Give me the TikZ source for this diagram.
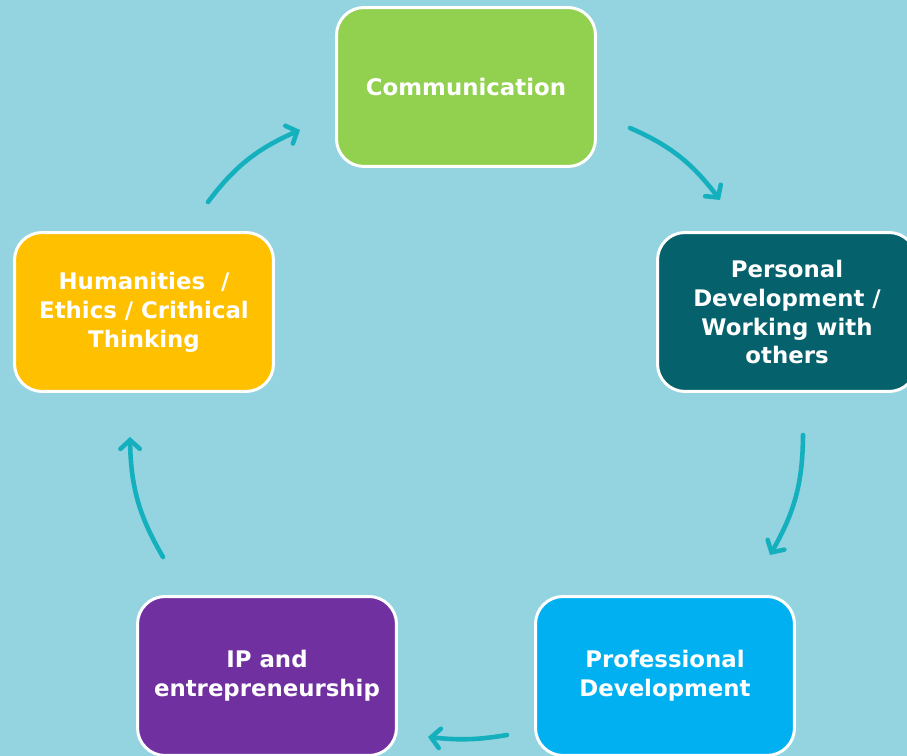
\documentclass[tikz,border=0pt]{standalone}
\usepackage{fontspec}
\setmainfont{DejaVu Sans}
\usetikzlibrary{arrows.meta,bending}

\definecolor{bgblue}{HTML}{94D3E0}
\definecolor{arrowteal}{HTML}{14B0BE}
\definecolor{boxgreen}{HTML}{92D050}
\definecolor{boxteal}{HTML}{05616B}
\definecolor{boxblue}{HTML}{00B0F0}
\definecolor{boxpurple}{HTML}{7030A0}
\definecolor{boxyellow}{HTML}{FFC000}

\begin{document}
\begin{tikzpicture}[x=0.02cm, y=-0.02cm, align=center, text=white,
        font=\fontsize{13}{16.5}\selectfont\bfseries]
    \tikzstyle{stepbox}=[draw=white, line width=1.7pt, rounded corners=0.55cm,
        minimum width=5.18cm, minimum height=3.18cm, inner sep=0pt];
    \tikzstyle{cycle}=[draw=arrowteal, line width=2.6pt, line cap=round,
        -{Straight Barb[length=5pt,width=11pt,line cap=round,flex]}, bend left=15];

    % page and background
    \useasboundingbox (0,0) rectangle (907,756);
    \clip (0,0) rectangle (907,756);
    \fill[bgblue] (0,0) rectangle (907,756);

    % the five boxes
    \node at (466, 87) (comm) [stepbox, fill=boxgreen] {Communication};
    \node at (787,312) (pers) [stepbox, fill=boxteal] {Personal\\Development /\\Working with\\others};
    \node at (665,676) (prof) [stepbox, fill=boxblue] {Professional\\Development};
    \node at (267,676) (ip)   [stepbox, fill=boxpurple] {IP and\\entrepreneurship};
    \node at (144,312) (hum)  [stepbox, fill=boxyellow] {Humanities~ /\\Ethics / Crithical\\Thinking};

    % arrow ends
    \coordinate (comm-out) at (630,128);
    \coordinate (pers-in)  at (720,200);
    \coordinate (pers-out) at (803,435);
    \coordinate (prof-in)  at (770,555);
    \coordinate (prof-out) at (507,735);
    \coordinate (ip-in)    at (428,737);
    \coordinate (ip-out)   at (163,557);
    \coordinate (hum-in)   at (130,437);
    \coordinate (hum-out)  at (208,202);
    \coordinate (comm-in)  at (300,130);

    \draw[cycle] (comm-out) to (pers-in);
    \draw[cycle] (pers-out) to (prof-in);
    \draw[cycle, bend left=8] (prof-out) to (ip-in);
    \draw[cycle] (ip-out) to (hum-in);
    \draw[cycle] (hum-out) to (comm-in);
\end{tikzpicture}
\end{document}
